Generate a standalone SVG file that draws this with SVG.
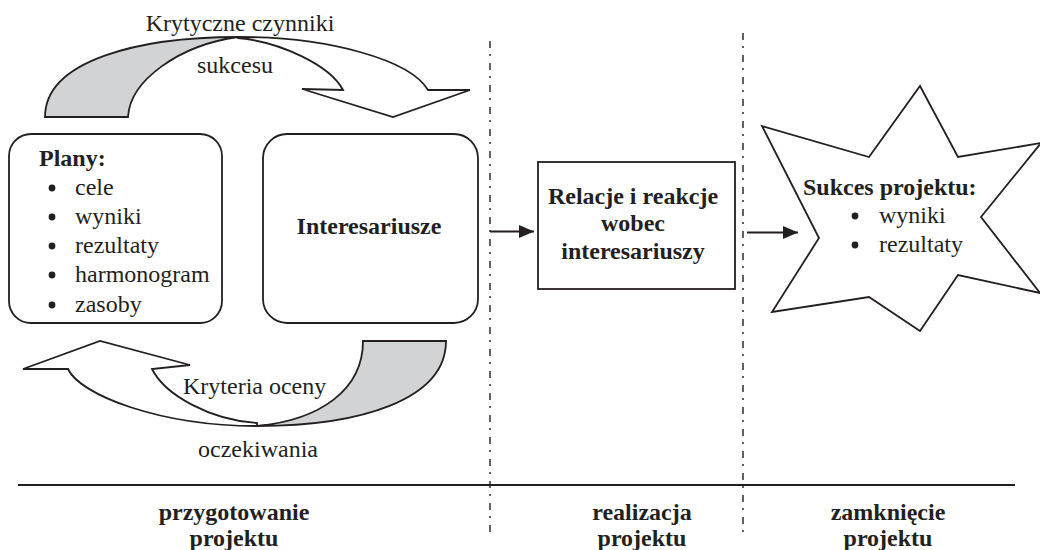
<svg xmlns="http://www.w3.org/2000/svg" width="1040" height="550" viewBox="0 0 1040 550">
  <style>
    .t { font-family: "Liberation Serif", "Times New Roman", serif; font-size: 24px; fill: #231f20; }
    .b { font-weight: bold; }
    .shape { fill: #ffffff; stroke: #231f20; stroke-width: 1.8; stroke-linejoin: miter; }
    .gray { fill: #d1d3d4; stroke: #231f20; stroke-width: 1.8; }
    .div { stroke: #231f20; stroke-width: 1.4; stroke-dasharray: 7 6 2 7; fill: none; }
    .conn { stroke: #231f20; stroke-width: 1.8; fill: none; }
    .dot { fill: #231f20; }
  </style>
  <defs>
    <marker id="ah" markerUnits="userSpaceOnUse" markerWidth="16" markerHeight="14" refX="15" refY="6.5" orient="auto">
      <path d="M0,0 L15,6.5 L0,13 Z" fill="#231f20"/>
    </marker>
  </defs>

  <rect width="1040" height="550" fill="#ffffff"/>

  <!-- phase dividers -->
  <g id="dividers">
    <line class="div" x1="490" y1="41" x2="490" y2="532"/>
    <line class="div" x1="743" y1="33" x2="743" y2="532"/>
    <line x1="18" y1="485" x2="1015" y2="485" stroke="#231f20" stroke-width="2"/>
  </g>

  <!-- top curved arrow: Krytyczne czynniki sukcesu -->
  <g id="csf-arrow">
    <path class="gray" d="M45,117 C45,60 140,37 238,37 C180,45 130,80 128,117 Z"/>
    <path class="shape" d="M238,37 C330,37 410,60 428,90 L470,90 L393,117 L302,89 L343,90 C330,65 280,42 238,38 Z"/>
    <text class="t" x="240" y="31" text-anchor="middle">Krytyczne czynniki</text>
    <text class="t" x="235" y="73" text-anchor="middle">sukcesu</text>
  </g>

  <!-- bottom curved arrow: Kryteria oceny / oczekiwania -->
  <g id="criteria-arrow">
    <path class="gray" d="M363,341 L446,341 C446,400 360,426 257,426 C320,420 363,390 363,341 Z"/>
    <path class="shape" d="M68,369 L23,369 L100,341 L190,365 L152,369 C165,395 210,420 257,423 L257,426 C160,426 80,395 68,369 Z"/>
    <text class="t" x="183" y="394">Kryteria oceny</text>
    <text class="t" x="258" y="457" text-anchor="middle">oczekiwania</text>
  </g>

  <!-- Plany node -->
  <g id="node-plany">
    <rect class="shape" x="9" y="134" width="213" height="189" rx="22" ry="22"/>
    <text class="t b" x="39" y="166">Plany:</text>
    <circle class="dot" cx="52" cy="188" r="3.4"/>
    <text class="t" x="75" y="195">cele</text>
    <circle class="dot" cx="52" cy="217" r="3.4"/>
    <text class="t" x="75" y="224">wyniki</text>
    <circle class="dot" cx="52" cy="246" r="3.4"/>
    <text class="t" x="75" y="253">rezultaty</text>
    <circle class="dot" cx="52" cy="275" r="3.4"/>
    <text class="t" x="75" y="282">harmonogram</text>
    <circle class="dot" cx="52" cy="305" r="3.4"/>
    <text class="t" x="75" y="312">zasoby</text>
  </g>

  <!-- Interesariusze node -->
  <g id="node-interesariusze">
    <rect class="shape" x="263" y="134" width="215" height="189" rx="24" ry="24"/>
    <text class="t b" x="369" y="234" text-anchor="middle">Interesariusze</text>
  </g>

  <!-- Relacje node -->
  <g id="node-relacje">
    <rect class="shape" x="538" y="162" width="197" height="127"/>
    <text class="t b" x="633" y="204" text-anchor="middle">Relacje i reakcje</text>
    <text class="t b" x="633" y="231" text-anchor="middle">wobec</text>
    <text class="t b" x="633" y="259" text-anchor="middle">interesariuszy</text>
  </g>

  <!-- Sukces node (star) -->
  <g id="node-sukces">
    <polygon class="shape" points="762,126 869,157 920,86 958,157 1041,143 981,217 1040,293 958,275 920,331 869,297 772,312 819,238"/>
    <text class="t b" x="803" y="195">Sukces projektu:</text>
    <circle class="dot" cx="855" cy="216" r="3.4"/>
    <text class="t" x="879" y="223">wyniki</text>
    <circle class="dot" cx="855" cy="245" r="3.4"/>
    <text class="t" x="879" y="252">rezultaty</text>
  </g>

  <!-- connectors -->
  <g id="connectors">
    <line class="conn" x1="490" y1="231.5" x2="534" y2="231.5" marker-end="url(#ah)"/>
    <line class="conn" x1="747" y1="232.5" x2="798" y2="232.5" marker-end="url(#ah)"/>
  </g>

  <!-- phase labels -->
  <g id="phase-labels">
    <text class="t b" x="234" y="520" text-anchor="middle">przygotowanie</text>
    <text class="t b" x="234" y="546" text-anchor="middle">projektu</text>
    <text class="t b" x="642" y="520" text-anchor="middle">realizacja</text>
    <text class="t b" x="642" y="546" text-anchor="middle">projektu</text>
    <text class="t b" x="888" y="520" text-anchor="middle">zamknięcie</text>
    <text class="t b" x="888" y="546" text-anchor="middle">projektu</text>
  </g>
</svg>
